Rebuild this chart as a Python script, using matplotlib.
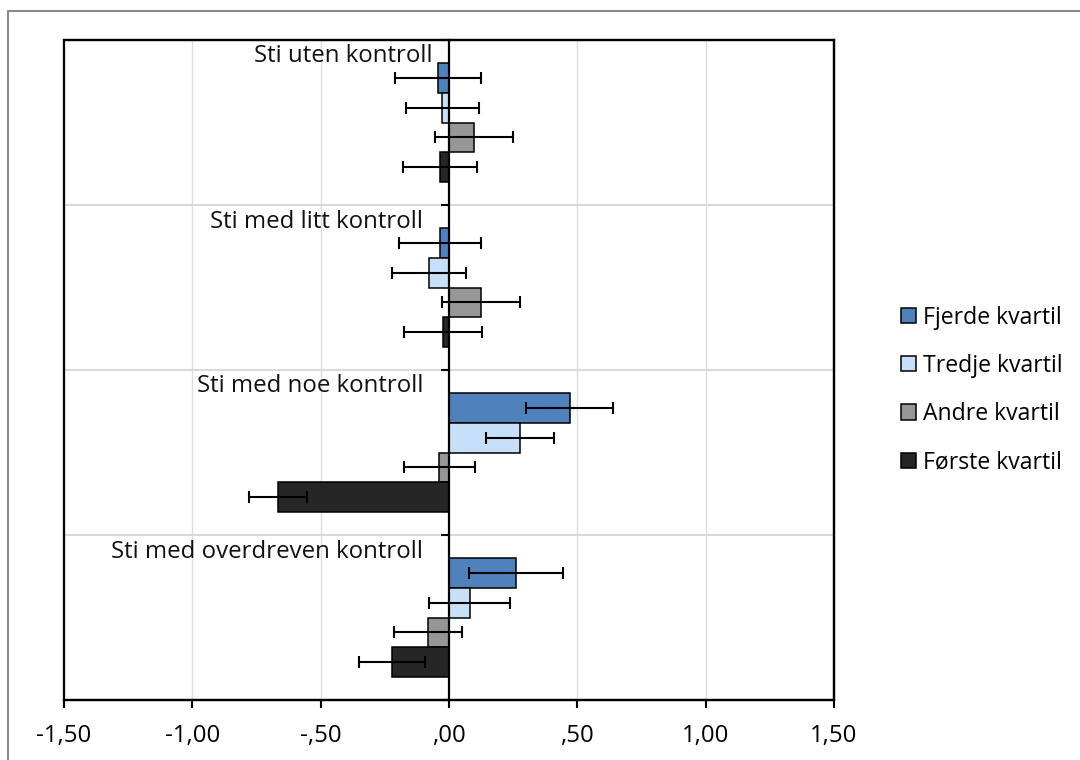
import matplotlib
matplotlib.use("Agg")
import matplotlib.pyplot as plt
from matplotlib.patches import Rectangle, Patch
from matplotlib.ticker import FixedLocator, FixedFormatter

# Effect estimates per control style, split by quartile
categories = ["Sti uten kontroll", "Sti med litt kontroll",
              "Sti med noe kontroll", "Sti med overdreven kontroll"]
series_names = ["Fjerde kvartil", "Tredje kvartil", "Andre kvartil", "Første kvartil"]

fjerde = [-0.044, -0.035, 0.470, 0.262]
tredje = [-0.026, -0.077, 0.277, 0.080]
andre = [0.097, 0.125, -0.038, -0.082]
forste = [-0.034, -0.022, -0.666, -0.222]

fjerde_err = [0.168, 0.158, 0.169, 0.184]
tredje_err = [0.143, 0.145, 0.133, 0.158]
andre_err = [0.153, 0.151, 0.138, 0.134]
forste_err = [0.145, 0.152, 0.112, 0.128]

x_ticks = [-1.5, -1.0, -0.5, 0.0, 0.5, 1.0, 1.5]
x_tick_labels = ["-1,50", "-1,00", "-,50", ",00", ",50", "1,00", "1,50"]

colors = ["#4F81BD", "#C6E0FA", "#969696", "#262626"]

plt.rcParams["font.family"] = ["Open Sans", "DejaVu Sans"]
FS = 17.3
FS_LEG = 16.6

fig = plt.figure(figsize=(10.8, 7.6), dpi=100)
ax = fig.add_axes([64 / 1080, 1 - 700 / 760, (834 - 64) / 1080, (700 - 40) / 760])

values = [fjerde, tredje, andre, forste]
errors = [fjerde_err, tredje_err, andre_err, forste_err]
n_series = len(values)
bar_h = 0.1818

for j, (vals, errs, col, name) in enumerate(zip(values, errors, colors, series_names)):
    ys = [k + 0.5 + (j - (n_series - 1) / 2) * bar_h for k in range(len(categories))]
    ax.barh(ys, vals, height=bar_h, color=col, edgecolor="black",
            linewidth=1.1, zorder=3, label=name)
    ax.errorbar(vals, ys, xerr=errs, fmt="none", ecolor="black",
                elinewidth=1.5, capsize=4.3, capthick=1.5, zorder=4)

# Category captions inside the plot, above each group
label_right = [-0.062, -0.101, -0.101, -0.101]
for k, (cat, xr) in enumerate(zip(categories, label_right)):
    ax.text(xr, k + 0.1, cat, ha="right", va="center", fontsize=FS,
            color="#111111", zorder=5)

ax.set_xlim(-1.5, 1.5)
ax.set_ylim(len(categories), 0)

# Gridlines: vertical at x ticks, horizontal at group boundaries
for xv in x_ticks[1:-1]:
    if xv != 0:
        ax.axvline(xv, color="#DEDEDE", lw=1.0, zorder=1)
for k in range(1, len(categories)):
    ax.axhline(k, color="#D9D9D9", lw=1.5, zorder=1)

ax.xaxis.set_major_locator(FixedLocator(x_ticks))
ax.xaxis.set_major_formatter(FixedFormatter(x_tick_labels))
ax.tick_params(axis="x", direction="out", length=6, width=1.5,
               labelsize=FS, pad=11, colors="black")

# Vertical axis sits on zero with outward boundary ticks
ax.spines["left"].set_position(("data", 0))
ax.spines["left"].set_linewidth(1.6)
ax.spines["left"].set_zorder(6)
ax.yaxis.set_major_locator(FixedLocator(list(range(len(categories) + 1))))
ax.tick_params(axis="y", direction="out", length=6, width=1.5, labelleft=False)
for side in ["top", "right", "bottom"]:
    ax.spines[side].set_linewidth(1.6)
ax.add_patch(Rectangle((0, 0), 1, 1, transform=ax.transAxes, fill=False,
                       edgecolor="black", lw=1.6, zorder=7, clip_on=False))

handles = [Patch(facecolor=c, edgecolor="black", linewidth=1.1) for c in colors]
fig.legend(handles, series_names, loc="center left",
           bbox_to_anchor=(880 / 1080, 1 - 390 / 760), frameon=False,
           fontsize=FS_LEG, handlelength=0.65, handleheight=0.65,
           handletextpad=0.3, labelspacing=1.05)

# Outer chart frame
fig.patches.append(Rectangle((8 / 1080, -0.2), 1.5, 1 - 11 / 760 + 0.2,
                             transform=fig.transFigure, fill=False,
                             edgecolor="#8A8A8A", lw=1.5))

fig.savefig("out.png", dpi=100)
